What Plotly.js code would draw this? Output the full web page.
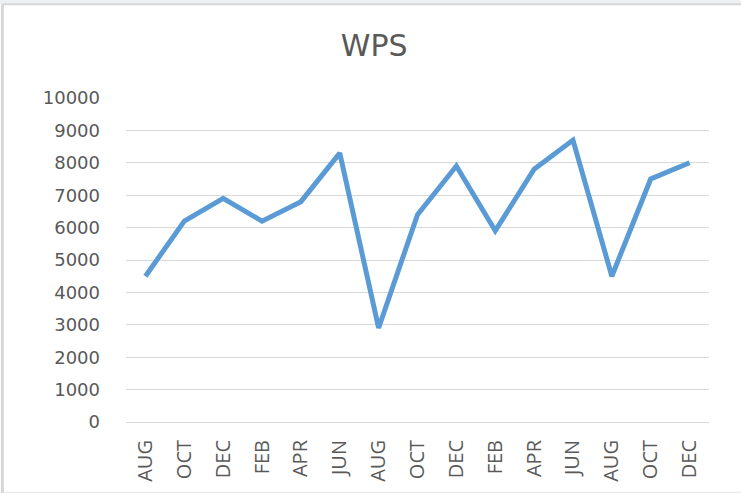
<!DOCTYPE html>
<html>
<head>
<meta charset="utf-8">
<script src="https://cdn.plot.ly/plotly-3.0.1.min.js"></script>
<style>html,body{margin:0;padding:0;background:#fff;}#chart{width:741px;height:494px;}</style>
</head>
<body>
<div id="chart"></div>
<script>
const months = ["AUG","OCT","DEC","FEB","APR","JUN","AUG","OCT","DEC","FEB","APR","JUN","AUG","OCT","DEC"];
const wps = [4500, 6200, 6900, 6200, 6800, 8300, 2900, 6400, 7900, 5900, 7800, 8700, 4500, 7500, 8000];
const yTicks = [0,1000,2000,3000,4000,5000,6000,7000,8000,9000,10000];

const idx = months.map((m, i) => i);
const gray = "#595959";
const fontX = "Open Sans, Liberation Sans, sans-serif";
const fontWide = "DejaVu Sans, Open Sans, sans-serif";

const trace = {
  x: idx,
  y: wps,
  type: "scatter",
  mode: "lines",
  line: {color: "#5B9BD5", width: 5},
  hoverinfo: "skip"
};

const layout = {
  width: 741,
  height: 494,
  margin: {l: 126, r: 32, t: 98, b: 72},
  paper_bgcolor: "#ffffff",
  plot_bgcolor: "#ffffff",
  showlegend: false,
  title: {text: "WPS", x: 0.505, xanchor: "center", y: 0.907, yanchor: "middle",
          font: {family: fontWide, size: 30, color: gray}},
  xaxis: {
    range: [-0.5, 14.5],
    tickmode: "array",
    tickvals: idx,
    ticktext: months,
    tickangle: -90,
    showgrid: false,
    showline: true,
    linecolor: "#d9d9d9",
    linewidth: 1,
    zeroline: false,
    ticks: "",
    ticklabelstandoff: 9,
    tickfont: {family: fontX, size: 20, color: gray}
  },
  yaxis: {
    range: [0, 10000],
    tickmode: "array",
    tickvals: yTicks,
    ticktext: yTicks.map(String),
    showgrid: true,
    gridcolor: "#d9d9d9",
    gridwidth: 1,
    zeroline: false,
    showline: false,
    ticks: "",
    ticklabelstandoff: 25,
    tickfont: {family: fontWide, size: 18, color: gray}
  },
  shapes: [
    {type: "rect", xref: "paper", yref: "paper", x0: -0.3, x1: 1.1, y0: 1.29, y1: 1.31,
     fillcolor: "#eef1f4", line: {width: 0}, layer: "below"},
    {type: "line", xref: "paper", yref: "paper", x0: -0.212, x1: 1.1, y0: 1.289, y1: 1.289,
     line: {color: "#d6d6d6", width: 2}},
    {type: "line", xref: "paper", yref: "paper", x0: -0.212, x1: -0.212, y0: -0.22, y1: 1.289,
     line: {color: "#d6d6d6", width: 3}},
    {type: "line", xref: "paper", yref: "paper", x0: -0.212, x1: 1.1, y0: -0.217, y1: -0.217,
     line: {color: "#e6e6e6", width: 1}}
  ]
};

Plotly.newPlot("chart", [trace], layout, {displayModeBar: false, staticPlot: true});
</script>
</body>
</html>
